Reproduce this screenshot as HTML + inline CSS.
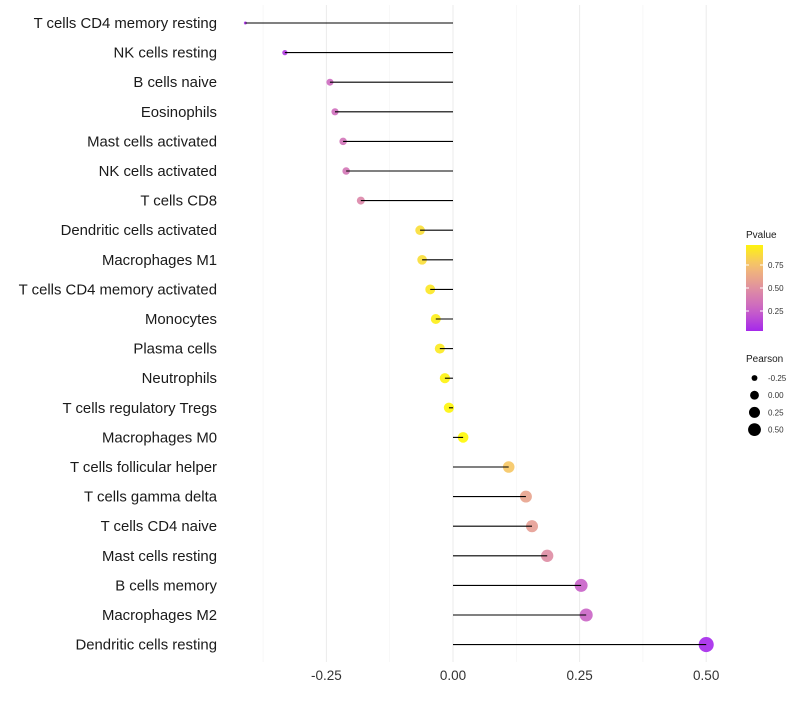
<!DOCTYPE html>
<html><head><meta charset="utf-8"><style>
body{margin:0;background:#fff;font-family:"Liberation Sans",sans-serif}
svg text{font-family:"Liberation Sans",sans-serif}
</style></head><body>
<svg id="c" width="800" height="700"></svg>
<script>
const categories=["T cells CD4 memory resting","NK cells resting","B cells naive","Eosinophils","Mast cells activated","NK cells activated","T cells CD8","Dendritic cells activated","Macrophages M1","T cells CD4 memory activated","Monocytes","Plasma cells","Neutrophils","T cells regulatory  Tregs","Macrophages M0","T cells follicular helper","T cells gamma delta","T cells CD4 naive","Mast cells resting","B cells memory","Macrophages M2","Dendritic cells resting"];
const pearson=[-0.41,-0.332,-0.243,-0.233,-0.217,-0.211,-0.182,-0.065,-0.061,-0.045,-0.034,-0.026,-0.016,-0.008,0.02,0.11,0.144,0.156,0.186,0.253,0.263,0.5];
const pvalue=[0.05,0.1,0.3,0.32,0.35,0.36,0.45,0.88,0.88,0.92,0.95,0.93,0.97,0.98,0.99,0.78,0.6,0.57,0.48,0.25,0.27,0.03];
const xTicks=[-0.25,0,0.25,0.5];
const xTickLabels=["-0.25","0.00","0.25","0.50"];
const minorTicks=[-0.375,-0.125,0.125,0.375];
const legendP=[0.75,0.5,0.25];
const legendS=[-0.25,0,0.25,0.5];

const NS="http://www.w3.org/2000/svg";
const svg=document.getElementById('c');
const X=v=>453+v*506.4;
const Y=i=>23+i*29.6;
const R=v=>Math.sqrt(2.25+Math.max(0,v+0.41)*60);
const stops=[[160,32,240],[200,96,200],[224,144,160],[245,192,112],[255,250,0]];
function col(p){p=Math.max(0,Math.min(1,p));const f=p*4,i=Math.min(3,Math.floor(f)),t=f-i;const a=stops[i],b=stops[i+1];return `rgb(${a.map((x,k)=>Math.round(x+(b[k]-x)*t))})`;}
function el(t,a){const e=document.createElementNS(NS,t);for(const k in a)e.setAttribute(k,a[k]);svg.appendChild(e);return e;}
minorTicks.forEach(v=>{const l=el('line',{x1:X(v),x2:X(v),y1:5,y2:662,stroke:'#f3f3f3','stroke-width':0.6});

});
xTicks.forEach((v,i)=>{const l=el('line',{x1:X(v),x2:X(v),y1:5,y2:662,stroke:'#ebebeb','stroke-width':1});


const t=el('text',{x:X(v),y:680,'text-anchor':'middle','font-size':13.5,fill:'#333'});t.textContent=xTickLabels[i];

});
categories.forEach((c,i)=>{const y=Y(i);
const t=el('text',{x:217,y:y+5,'text-anchor':'end','font-size':14.9,fill:'#1a1a1a'});t.textContent=c;


const p=el('circle',{cx:X(pearson[i]),cy:y,r:R(pearson[i]),fill:col(pvalue[i]),'fill-opacity':0.9});


const l=el('line',{x1:X(0),x2:X(pearson[i]),y1:y,y2:y,stroke:'#000','stroke-width':1.1});


});
const lt=el('text',{x:746,y:238,'font-size':10,fill:'#1a1a1a'});lt.textContent='Pvalue';


const defs=el('defs',{});
const g=document.createElementNS(NS,'linearGradient');g.setAttribute('id','pg');g.setAttribute('x1',0);g.setAttribute('y1',1);g.setAttribute('x2',0);g.setAttribute('y2',0);defs.appendChild(g);
for(let k=0;k<=10;k++){const s=document.createElementNS(NS,'stop');s.setAttribute('offset',k/10);s.setAttribute('stop-color',col(0.03+k/10*0.94));g.appendChild(s);}
const bar=el('rect',{x:746,y:245,width:17,height:86,fill:'url(#pg)'});


const PY=p=>288-(p-0.5)*92;
legendP.forEach(p=>{el('line',{x1:746,x2:749,y1:PY(p),y2:PY(p),stroke:'#fff'});el('line',{x1:760,x2:763,y1:PY(p),y2:PY(p),stroke:'#fff'});
const t=el('text',{x:768,y:PY(p)+3,'font-size':8,fill:'#333'});t.textContent=p.toFixed(2);

});
const st=el('text',{x:746,y:362,'font-size':10,fill:'#1a1a1a'});st.textContent='Pearson';


legendS.forEach((v,i)=>{const y=378+i*17.2;
const c=el('circle',{cx:754.5,cy:y,r:R(v)*0.85,fill:'#000'});


const t=el('text',{x:768,y:y+3,'font-size':8,fill:'#333'});t.textContent=v.toFixed(2);

});
</script>
</body></html>
